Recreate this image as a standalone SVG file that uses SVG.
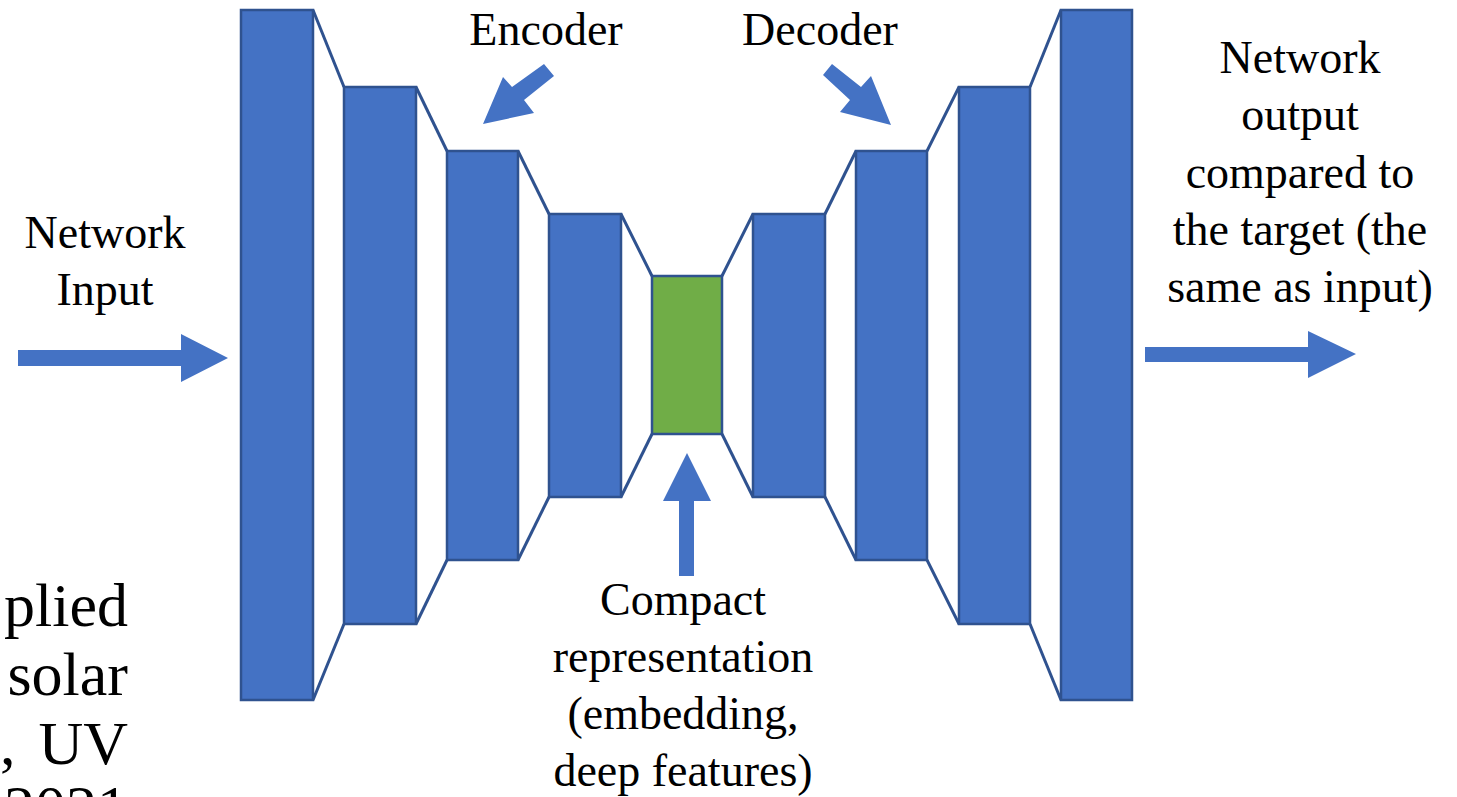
<svg xmlns="http://www.w3.org/2000/svg" width="1457" height="797" viewBox="0 0 1457 797">
<style>
.blk{fill:#4472C4;stroke:#2F528F;stroke-width:2.5}
.emb{fill:#70AD47;stroke:#2F528F;stroke-width:2.5}
.ln{stroke:#2F528F;stroke-width:3;fill:none}
.arr{fill:#4472C4}
.t{font-family:"Liberation Serif","Times New Roman",serif;font-size:46px;fill:#000;text-anchor:middle}
.tb{font-family:"Liberation Serif","Times New Roman",serif;font-size:62px;fill:#000;text-anchor:end}
</style>
<rect width="1457" height="797" fill="#fff"/>
<g id="side-text">
<text class="tb" x="128" y="626">plied</text>
<text class="tb" x="128" y="695">solar</text>
<text class="tb" x="0" y="764" style="text-anchor:start">,</text>
<text class="tb" x="128" y="764">UV</text>
<text class="tb" x="128" y="828">2021</text>
</g>
<g id="connectors">
<line class="ln" x1="313" y1="10" x2="344" y2="87"/><line class="ln" x1="313" y1="700" x2="344" y2="624"/>
<line class="ln" x1="416" y1="87" x2="447" y2="151"/><line class="ln" x1="416" y1="624" x2="447" y2="560"/>
<line class="ln" x1="518" y1="151" x2="549" y2="214"/><line class="ln" x1="518" y1="560" x2="549" y2="497"/>
<line class="ln" x1="621" y1="214" x2="652" y2="276"/><line class="ln" x1="621" y1="497" x2="652" y2="434"/>
<line class="ln" x1="722" y1="276" x2="753" y2="214"/><line class="ln" x1="722" y1="434" x2="753" y2="497"/>
<line class="ln" x1="825" y1="214" x2="856" y2="151"/><line class="ln" x1="825" y1="497" x2="856" y2="560"/>
<line class="ln" x1="927" y1="151" x2="959" y2="87"/><line class="ln" x1="927" y1="560" x2="959" y2="624"/>
<line class="ln" x1="1030" y1="87" x2="1061" y2="10"/><line class="ln" x1="1030" y1="624" x2="1061" y2="700"/>
<polygon class="arr" points="18,350 181,350 181,334 228,358 181,382 181,366 18,366"/>
<polygon class="arr" points="1145,347 1308,347 1308,331 1356,354 1308,378 1308,362 1145,362"/>
<polygon class="arr" points="687,453 711,501 694,501 694,576 679,576 679,501 663,501"/>
<polygon class="arr" points="483,124 503,77 512,87 544,64 554,76 524,100 534,113"/>
<polygon class="arr" points="891,125 840,112 850,100 823,75 832,64 861,87 871,76"/>
</g>
<g id="enc1"><rect class="blk" x="241" y="10" width="72" height="690"/></g>
<g id="enc2"><rect class="blk" x="344" y="87" width="72" height="537"/></g>
<g id="enc3"><rect class="blk" x="447" y="151" width="71" height="409"/></g>
<g id="enc4"><rect class="blk" x="549" y="214" width="72" height="283"/></g>
<g id="embedding"><rect class="emb" x="652" y="276" width="70" height="158"/></g>
<g id="dec1"><rect class="blk" x="753" y="214" width="72" height="283"/></g>
<g id="dec2"><rect class="blk" x="856" y="151" width="71" height="409"/></g>
<g id="dec3"><rect class="blk" x="959" y="87" width="71" height="537"/></g>
<g id="dec4"><rect class="blk" x="1061" y="10" width="71" height="690"/></g>
<g id="labels">
<text class="t" x="546" y="45">Encoder</text>
<text class="t" x="820" y="45">Decoder</text>
<text class="t" x="105" y="248">Network</text>
<text class="t" x="105" y="305">Input</text>
<text class="t" x="1300" y="73">Network</text>
<text class="t" x="1300" y="130">output</text>
<text class="t" x="1300" y="188">compared to</text>
<text class="t" x="1300" y="245">the target (the</text>
<text class="t" x="1300" y="302">same as input)</text>
<text class="t" x="683" y="615">Compact</text>
<text class="t" x="683" y="672">representation</text>
<text class="t" x="683" y="729">(embedding,</text>
<text class="t" x="683" y="786">deep features)</text>
</g>
</svg>
